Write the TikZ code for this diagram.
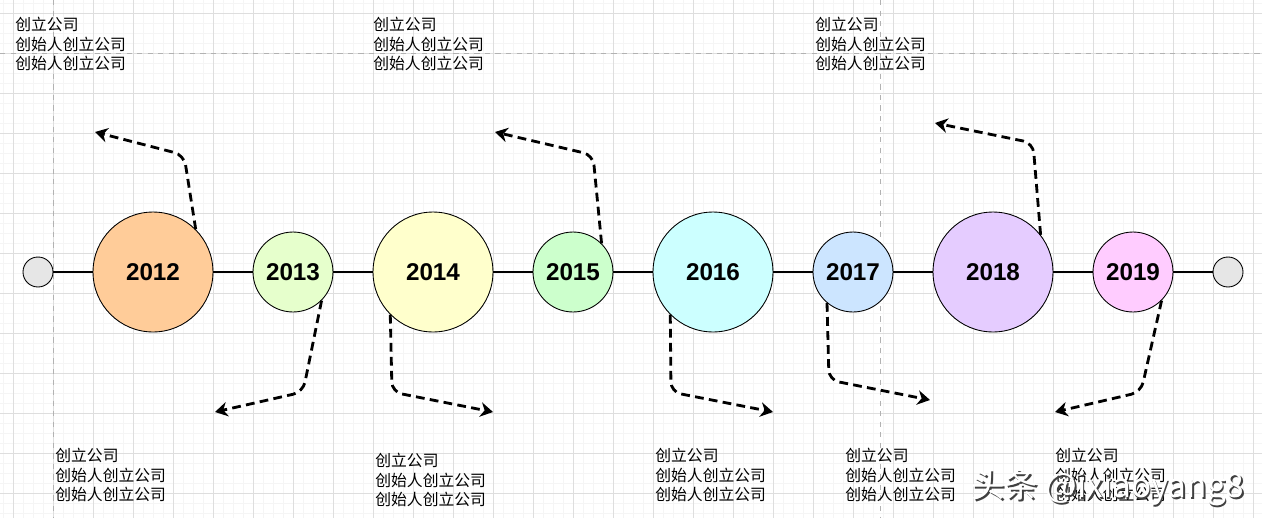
\documentclass[tikz,border=0pt]{standalone}
\usepackage{fontspec}
\setsansfont{Liberation Sans}
\newfontfamily\cjk{Noto Sans CJK SC}
\usetikzlibrary{arrows.meta}
\definecolor{c12}{HTML}{FFCC99}
\definecolor{c13}{HTML}{E6FFCC}
\definecolor{c14}{HTML}{FFFFCC}
\definecolor{c15}{HTML}{CCFFCC}
\definecolor{c16}{HTML}{CCFFFF}
\definecolor{c17}{HTML}{CCE5FF}
\definecolor{c18}{HTML}{E5CCFF}
\definecolor{c19}{HTML}{FFCCFF}
\definecolor{cend}{HTML}{E6E6E6}
\tikzset{
  gridmin/.style={line width=0.3pt,black!4},
  gridmaj/.style={line width=0.4pt,black!13},
  pgbrk/.style={dashed,line width=0.4pt,black!30},
  yr/.style={circle,draw=black,line width=0.5pt,inner sep=0pt,
    font=\sffamily\bfseries\fontsize{13.8}{16}\selectfont},
  endpt/.style={circle,draw=black,fill=cend,line width=0.5pt,minimum size=0.6cm,inner sep=0pt},
  axis/.style={line width=1.7pt},
  callout/.style={line width=1.6pt,dash pattern=on 5pt off 3pt,rounded corners=0.2cm,
    -{Stealth[length=2.5mm,width=2.9mm,inset=0.8mm]}},
  note/.style={font=\cjk\fontsize{9}{11.1}\selectfont,align=left,anchor=north west,inner sep=0pt},
  wmark/.style={font=\cjk\fontsize{19}{22}\selectfont,inner sep=0pt},
}
\newcommand{\notetext}{创立公司\\创始人创立公司\\创始人创立公司}

\begin{document}
\begin{tikzpicture}[x=0.02cm,y=-0.02cm]
  \useasboundingbox (0,0) rectangle (1262,518);
  \fill[white] (0,0) rectangle (1262,518);
  % background grid
  \foreach \x in {3,13,...,1261} \draw[gridmin] (\x,0) -- (\x,518);
  \foreach \y in {3,13,...,517} \draw[gridmin] (0,\y) -- (1262,\y);
  \foreach \x in {13,53,...,1253} \draw[gridmaj] (\x,0) -- (\x,518);
  \foreach \y in {13,53,...,493} \draw[gridmaj] (0,\y) -- (1262,\y);
  \draw[pgbrk] (53,0) -- (53,518);
  \draw[pgbrk] (880,0) -- (880,518);
  \draw[pgbrk] (0,53) -- (1262,53);

  % timeline
  \node[endpt] (s) at (38,272) {};
  \node[endpt] (e) at (1228,272) {};
  \foreach \yr/\x/\r in {2012/153/60,2013/293/40,2014/433/60,2015/573/40,
                         2016/713/60,2017/853/40,2018/993/60,2019/1133/40}{
    \pgfmathtruncatemacro{\cc}{\yr-2000}
    \node[yr,fill=c\cc,minimum size={\r*0.04cm}] (y\yr) at (\x,272) {\yr};
  }
  \draw[axis] (s) -- (y2012);
  \foreach \a/\b in {2012/2013,2013/2014,2014/2015,2015/2016,2016/2017,2017/2018,2018/2019}
    \draw[axis] (y\a) -- (y\b);
  \draw[axis] (y2019) -- (e);

  % callouts
  \coordinate (t12) at (95,132);
  \coordinate (t13) at (215,412);
  \coordinate (t14) at (493,412);
  \coordinate (t15) at (495,132);
  \coordinate (t16) at (773,412);
  \coordinate (t17) at (930,400);
  \coordinate (t18) at (935,123);
  \coordinate (t19) at (1055,412);
  \draw[callout] (y2012.45) -- (184,155) -- (t12);
  \draw[callout] (y2013.-45) -- (303,392) -- (t13);
  \draw[callout] (y2014.-135) -- (392,392) -- (t14);
  \draw[callout] (y2015.45) -- (593,155) -- (t15);
  \draw[callout] (y2016.-135) -- (671,392) -- (t16);
  \draw[callout] (y2017.-130) -- (829,380) -- (t17);
  \draw[callout] (y2018.38) -- (1033,143) -- (t18);
  \draw[callout] (y2019.-45) -- (1141,392) -- (t19);

  % notes
  \node[note] (n12) at (15,17) {\notetext};
  \node[note] (n15) at (373,17) {\notetext};
  \node[note] (n18) at (815,17) {\notetext};
  \node[note] (n13) at (55,448) {\notetext};
  \node[note] (n14) at (375,453) {\notetext};
  \node[note] (n16) at (655,448) {\notetext};
  \node[note] (n17) at (845,448) {\notetext};
  \node[note] (n19) at (1055,448) {\notetext};

  % watermark
  \node[wmark,text=black!75] (wms) at (1109.5,489.5) {头条 @ixiaoyang8};
  \node[wmark,text=white] (wm) at (1108,488) {头条 @ixiaoyang8};
\end{tikzpicture}
\end{document}
